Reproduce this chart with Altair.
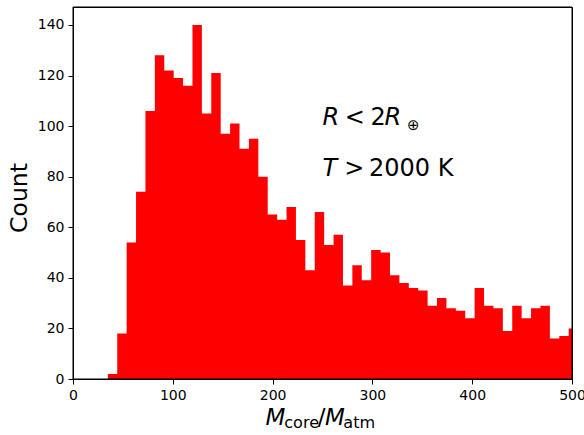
import altair as alt
import pandas as pd

# Histogram counts (bins left to right)
counts = [2, 18, 54, 74, 106, 128, 122, 119, 116, 140, 105, 121, 97, 101, 91, 95,
          80, 65, 63, 68, 55, 43, 66, 53, 57, 37, 45, 39, 51, 50, 41, 38, 36, 35,
          29, 32, 28, 27, 24, 36, 29, 28, 19, 29, 24, 28, 29, 16, 17, 20]
bin_start = 34.9
bin_width = 9.424
x_ticks = [0, 100, 200, 300, 400, 500]
y_ticks = [0, 20, 40, 60, 80, 100, 120, 140]

# step outline: one row per bin edge (last edge repeats the last count)
edges = [bin_start + i * bin_width for i in range(len(counts) + 1)]
df = pd.DataFrame({"edge": edges, "count": counts + [counts[-1]]})

FONT = "DejaVu Sans"
W, H = 499, 372

hist = alt.Chart(df).mark_area(color="#ff0000", clip=True, opacity=1,
                               interpolate="step-after").encode(
    x=alt.X("edge:Q", scale=alt.Scale(domain=[0, 500], nice=False, zero=False),
            axis=alt.Axis(values=x_ticks, title=None, grid=False, labelFontSize=14,
                          labelFont=FONT, labelColor="black", tickColor="black",
                          domainColor="black", tickSize=5, labelPadding=4,
                          labelFlush=False)),
    y=alt.Y("count:Q", scale=alt.Scale(domain=[0, 147.1], nice=False, zero=True),
            axis=alt.Axis(values=y_ticks, title="Count", grid=False, labelFontSize=14,
                          labelFont=FONT, labelColor="black", tickColor="black",
                          domainColor="black", tickSize=5, labelPadding=4,
                          titleFontSize=23.5, titleFont=FONT, titleFontWeight="normal",
                          titleColor="black", titleX=-47, titleY=190.5,
                          titleAngle=270, titleAlign="center",
                          titleBaseline="alphabetic", labelFlush=False)),
)

frame = alt.Chart(pd.DataFrame({"t": [0]})).mark_rect(
    fill=None, stroke="black", strokeWidth=1
).encode(x=alt.value(0), x2=alt.value(W), y=alt.value(0), y2=alt.value(H))

# text pieces: (text, x px, y px baseline, size, style)
pieces = [
    ("R", 249.5, 118.0, 24, "italic"),
    ("<", 271.8, 118.0, 24, "normal"),
    ("2", 297.5, 118.0, 24, "normal"),
    ("R", 311.5, 118.0, 24, "italic"),
    ("\u2295", 334.0, 123.0, 15, "normal"),
    ("T", 249.5, 169.0, 24, "italic"),
    (">", 271.2, 169.0, 24, "normal"),
    ("2000 K", 296.0, 169.0, 24, "normal"),
    ("M", 192.5, 418.0, 23, "italic"),
    ("core", 211.2, 421.3, 16.1, "normal"),
    ("/", 244.7, 418.0, 23, "normal"),
    ("M", 252.0, 418.0, 23, "italic"),
    ("atm", 270.3, 421.3, 16.1, "normal"),
]

layers = [hist, frame]
for t, x, y, s, st in pieces:
    layers.append(
        alt.Chart(pd.DataFrame({"t": [t]})).mark_text(
            align="left", baseline="alphabetic", font=FONT, fontSize=s,
            fontStyle=st, color="black"
        ).encode(text="t:N", x=alt.value(x), y=alt.value(y))
    )

chart = alt.layer(*layers).properties(
    width=W, height=H,
    background="white",
    autosize=alt.AutoSizeParams(type="none"),
    padding={"left": 73, "top": 7, "right": 12, "bottom": 56},
).configure_view(stroke="black", strokeWidth=1)

chart.save("out.html", embed_options={"renderer": "svg", "actions": False})
